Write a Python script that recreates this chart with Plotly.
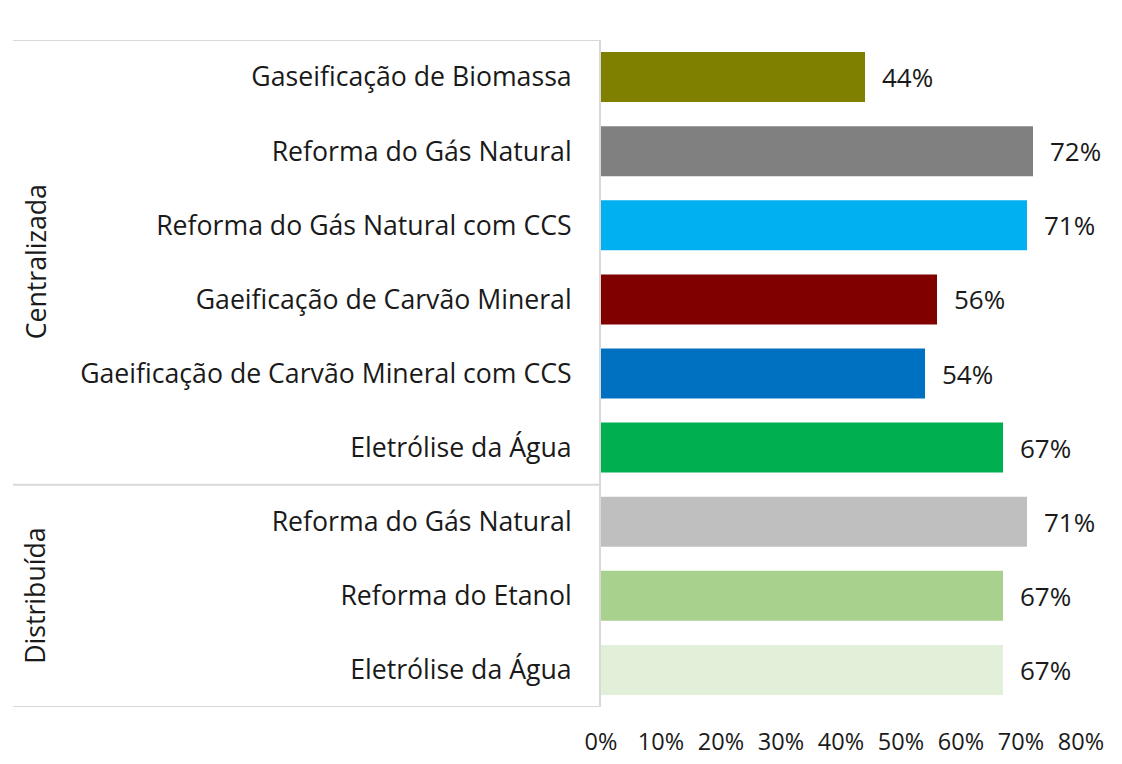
import plotly.graph_objects as go

labels = [
    "Gaseificação de Biomassa",
    "Reforma do Gás Natural",
    "Reforma do Gás Natural com CCS",
    "Gaeificação de Carvão Mineral",
    "Gaeificação de Carvão Mineral com CCS",
    "Eletrólise da Água",
    "Reforma do Gás Natural",
    "Reforma do Etanol",
    "Eletrólise da Água",
]
values = [0.44, 0.72, 0.71, 0.56, 0.54, 0.67, 0.71, 0.67, 0.67]
colors = ["#808000", "#808080", "#00B0F0", "#800000", "#0070C0",
          "#00B050", "#BFBFBF", "#A9D18E", "#E2F0D9"]
groups = ["Centralizada", "Distribuída"]
group_sizes = [6, 3]
tick_vals = [0, 0.1, 0.2, 0.3, 0.4, 0.5, 0.6, 0.7, 0.8]
tick_text = ["0%", "10%", "20%", "30%", "40%", "50%", "60%", "70%", "80%"]

FONT = "Open Sans"
TXT = "#1a1a1a"
LINE = "#d9d9d9"

idx = list(range(len(labels)))

fig = go.Figure()
fig.add_trace(go.Bar(
    x=values, y=idx, orientation="h",
    marker=dict(color=colors, line=dict(width=0)),
    width=0.675, hoverinfo="skip",
))

annotations = []
for i, v in zip(idx, values):
    annotations.append(dict(
        x=v, y=i, xref="x", yref="y", text=f"{round(v*100)}%",
        showarrow=False, xanchor="left", yanchor="middle", xshift=15,
        font=dict(family=FONT, size=26, color=TXT),
    ))

# page has an 8px body margin; figure is sized/placed to compensate
W, H = 1114, 756
ML, MR = 593, 5
pw = W - ML - MR
def px_to_paper(px):
    return (px - ML) / pw

shapes = []
start = -0.5
for g, n in zip(groups, group_sizes):
    end = start + n
    annotations.append(dict(
        x=px_to_paper(27), y=(start + end) / 2, xref="paper", yref="y",
        text=g, textangle=-90, showarrow=False,
        xanchor="center", yanchor="middle",
        font=dict(family=FONT, size=26.67, color=TXT),
    ))
    shapes.append(dict(type="line", xref="paper", yref="y",
                       x0=px_to_paper(5), x1=0, y0=start, y1=start,
                       line=dict(color=LINE, width=2)))
    start = end
shapes.append(dict(type="line", xref="paper", yref="y",
                   x0=px_to_paper(5), x1=0, y0=start, y1=start,
                   line=dict(color=LINE, width=2)))

fig.update_layout(
    width=W, height=H,
    margin=dict(l=ML, r=MR, t=32, b=57),
    paper_bgcolor="white", plot_bgcolor="white",
    showlegend=False,
    annotations=annotations, shapes=shapes,
    xaxis=dict(range=[0, 0.86], tickvals=tick_vals, ticktext=tick_text,
               showgrid=False, zeroline=False, showline=False,
               ticks="", ticklabelstandoff=18,
               tickfont=dict(family=FONT, size=23.5, color=TXT)),
    yaxis=dict(range=[8.5, -0.5], tickvals=idx, ticktext=labels,
               showgrid=False, zeroline=False,
               showline=True, linecolor=LINE, linewidth=2,
               ticks="", ticklabelstandoff=22,
               tickfont=dict(family=FONT, size=26.67, color=TXT)),
)

fig.write_html("out.html")
